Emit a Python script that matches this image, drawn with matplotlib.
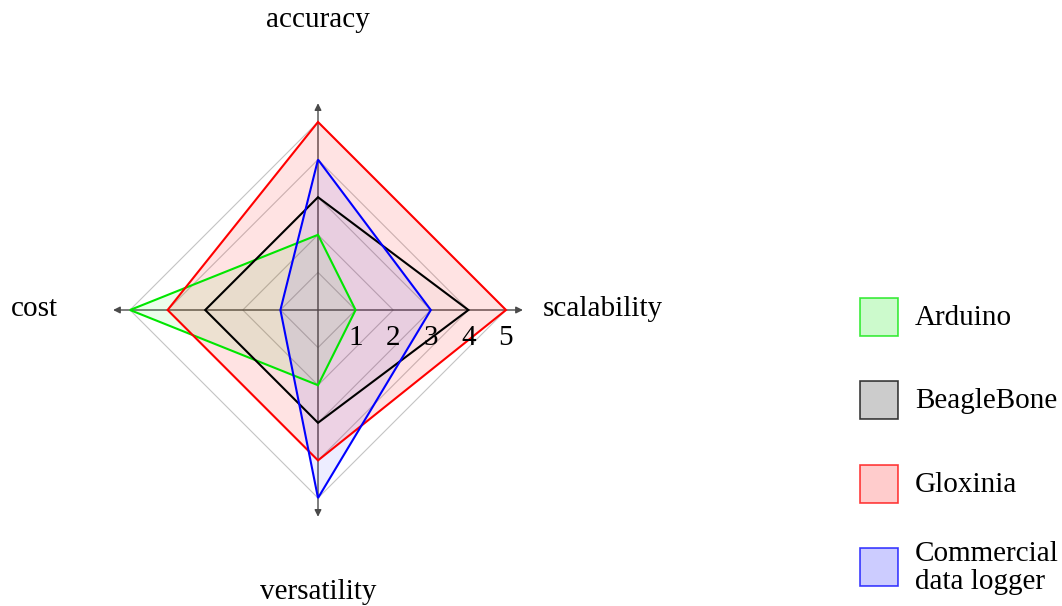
import numpy as np
import matplotlib.pyplot as plt
from matplotlib.patches import Polygon, Rectangle

# --- DATA ---
axes_labels = ["accuracy", "scalability", "versatility", "cost"]
angles_deg = [90, 0, 270, 180]
series_names = ["Arduino", "BeagleBone", "Gloxinia", "Commercial\ndata logger"]
arduino = [2, 1, 2, 5]
beaglebone = [3, 4, 3, 3]
gloxinia = [5, 5, 4, 4]
commercial = [4, 3, 5, 1]
series_colors = ["#00e600", "black", "red", "blue"]
fill_alpha = [0.08, 0.02, 0.11, 0.07]
ticks = [1, 2, 3, 4, 5]

plt.rcParams['font.family'] = ['Liberation Serif', 'DejaVu Serif']
FS = 21

W, H = 1062, 606
U = 37.6            # pixels per unit
CX, CY = 318, 310   # centre in pixels

fig = plt.figure(figsize=(W / 100, H / 100), dpi=100)
ax = fig.add_axes([0, 0, 1, 1])
ax.set_xlim(-CX / U, (W - CX) / U)
ax.set_ylim(-(H - CY) / U, CY / U)
ax.axis('off')

theta = np.deg2rad(angles_deg)
ct, st = np.cos(theta), np.sin(theta)

# grid diamonds
for r in ticks:
    ax.add_patch(Polygon(np.column_stack([r * ct, r * st]), closed=True, fill=False,
                         edgecolor='#c4c4c4', lw=0.8, zorder=1))

# axes with arrows
for a, b in [((-5.45, 0), (5.45, 0)), ((0, -5.5), (0, 5.5))]:
    ax.annotate('', xy=b, xytext=a,
                arrowprops=dict(arrowstyle='<|-|>', color='#4a4a4a', lw=1.0,
                                shrinkA=0, shrinkB=0, mutation_scale=10), zorder=2)

# series
data = [arduino, beaglebone, gloxinia, commercial]
for vals, col, al in zip(data, series_colors, fill_alpha):
    v = np.array(vals, dtype=float)
    pts = np.column_stack([v * ct, v * st])
    ax.add_patch(Polygon(pts, closed=True, facecolor=col, alpha=al, edgecolor='none', zorder=3))
for vals, col in zip(data, series_colors):
    v = np.array(vals, dtype=float)
    pts = np.column_stack([v * ct, v * st])
    ax.add_patch(Polygon(pts, closed=True, fill=False, edgecolor=col, lw=1.5, zorder=4))

# tick labels
for t in ticks:
    ax.text(t, -0.75, str(t), ha='center', va='center', fontsize=FS, zorder=5)

# axis labels
ax.text(0, 7.7, axes_labels[0], ha='center', va='center', fontsize=FS)
ax.text(5.98, 0.03, axes_labels[1], ha='left', va='center', fontsize=FS)
ax.text(0, -7.5, axes_labels[2], ha='center', va='center', fontsize=FS)
ax.text(-6.92, 0.03, axes_labels[3], ha='right', va='center', fontsize=FS)

# legend
lg = fig.add_axes([0, 0, 1, 1])
lg.set_xlim(0, W)
lg.set_ylim(H, 0)
lg.axis('off')
lg.patch.set_alpha(0)
for i, (name, col) in enumerate(zip(series_names, series_colors)):
    y0 = 298 + 83.3 * i
    lg.add_patch(Rectangle((860, y0), 38, 38, facecolor=col, alpha=0.2, edgecolor='none'))
    lg.add_patch(Rectangle((860, y0), 38, 38, fill=False, edgecolor=col, lw=1.2, alpha=0.75))
    lg.text(915, y0 + 20, name, ha='left', va='center', fontsize=FS, linespacing=1.1)

fig.savefig("out.png", dpi=100)
